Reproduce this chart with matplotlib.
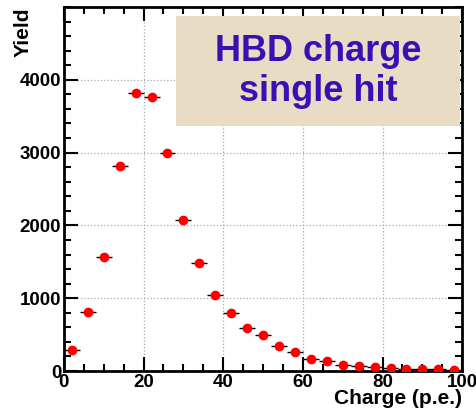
import numpy as np
import matplotlib
matplotlib.use('Agg')
import matplotlib.pyplot as plt
from matplotlib.patches import Rectangle
from matplotlib.ticker import MultipleLocator, FixedLocator

plt.rcParams['font.family'] = ['Liberation Sans', 'DejaVu Sans']
plt.rcParams['font.weight'] = 'bold'

# histogram bins (4 p.e. wide)
charge = [2, 6, 10, 14, 18, 22, 26, 30, 34, 38, 42, 46, 50,
          54, 58, 62, 66, 70, 74, 78, 82, 86, 90, 94, 98]
yield_counts = [290, 810, 1565, 2815, 3820, 3765, 2995, 2080, 1485, 1045, 800, 595, 500,
                350, 265, 165, 133, 87, 68, 50, 40, 30, 22, 25, 20]
bin_half = 2
y_major = [0, 1000, 2000, 3000, 4000]

fig = plt.figure(figsize=(4.77, 4.12), dpi=100)
ax = fig.add_axes([0.134, 0.0995, 0.835, 0.8835])

ax.grid(True, which='major', linestyle=':', color='#aaaaaa', linewidth=0.9)
ax.set_axisbelow(True)

ax.errorbar(charge, yield_counts, xerr=bin_half, fmt='o', color='red',
            markersize=6, ecolor='black', elinewidth=1.0, capsize=0, zorder=3)

ax.set_xlim(0, 100)
ax.set_ylim(0, 5000)
ax.xaxis.set_major_locator(MultipleLocator(20))
ax.xaxis.set_minor_locator(MultipleLocator(5))
ax.yaxis.set_major_locator(FixedLocator(y_major))
ax.yaxis.set_minor_locator(MultipleLocator(200))
ax.tick_params(which='both', direction='in', top=True, right=True, width=1.5)
ax.tick_params(which='major', length=10, labelsize=13.5, pad=2)
ax.tick_params(which='minor', length=5)
for lab in ax.get_xticklabels() + ax.get_yticklabels():
    lab.set_fontweight('bold')
for sp in ax.spines.values():
    sp.set_linewidth(2)

ax.set_xlabel('Charge (p.e.)', fontsize=15, fontweight='bold', loc='right')
ax.xaxis.set_label_coords(1.0, -0.05)
ax.set_ylabel('Yield', fontsize=15, fontweight='bold', loc='top')
ax.yaxis.set_label_coords(-0.078, 1.0)

# title box
ax.add_patch(Rectangle((0.281, 0.673), 0.714, 0.302, transform=ax.transAxes,
                       facecolor='#E8DCC4', edgecolor='none', zorder=5, clip_on=False))
ax.text(0.638, 0.822, 'HBD charge\nsingle hit', transform=ax.transAxes,
        ha='center', va='center', fontsize=26, fontweight='bold', color='#3A10B4',
        linespacing=1.2, zorder=6)

fig.savefig('out.png', dpi=100)
